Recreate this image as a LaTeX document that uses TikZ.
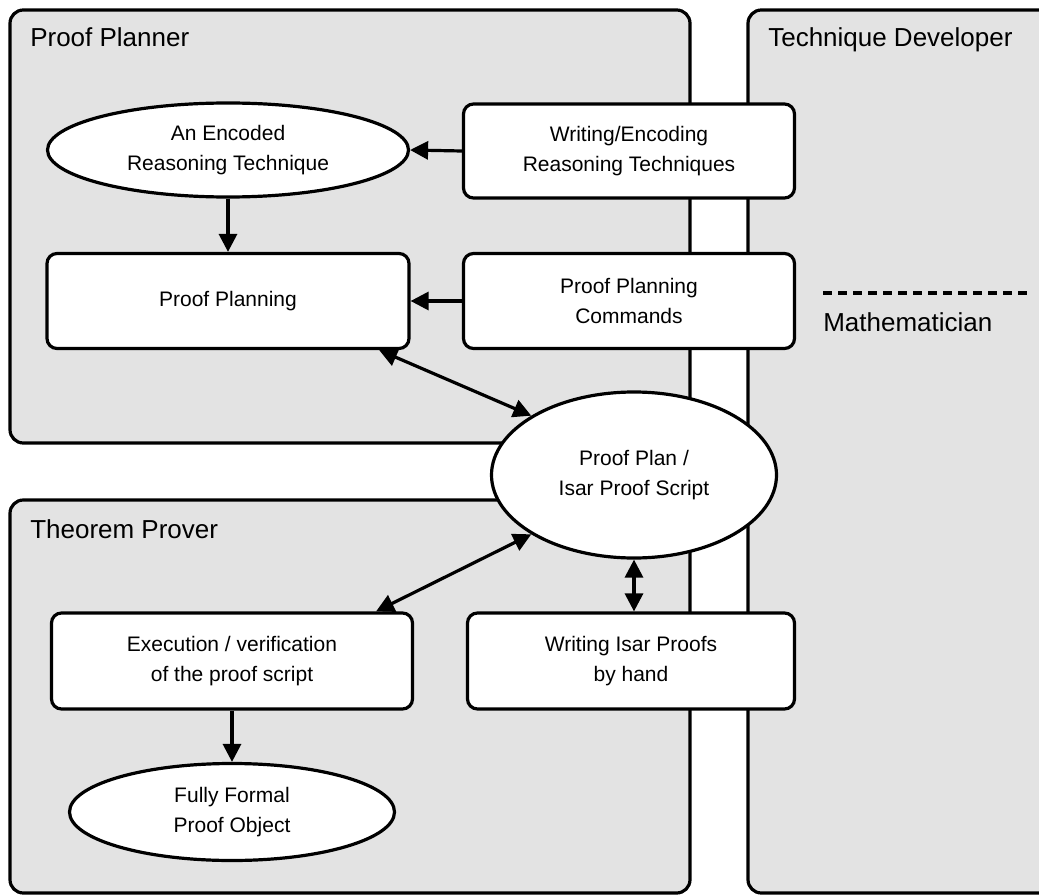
\documentclass[tikz,border=0pt]{standalone}
\usepackage{fontspec}
\setmainfont{Liberation Sans}
\usetikzlibrary{arrows.meta,shapes.geometric}
\newcommand{\boxfont}{\fontsize{15.75}{22.5}\selectfont}
\newcommand{\lanefont}{\fontsize{19.5}{23}\selectfont}
\begin{document}
\begin{tikzpicture}[x=.75pt,y=-.75pt,
		lane/.style={draw,line width=2.4pt,rounded corners=10pt,fill=black!11},
		block/.style={draw,line width=2.4pt,rounded corners=7.5pt,fill=white,align=center,font=\boxfont,inner sep=0pt},
		blob/.style={ellipse,draw,line width=2.4pt,fill=white,align=center,font=\boxfont,inner sep=0pt},
		link/.style={line width=2.4pt,-{Triangle[length=13.5pt,width=13.5pt]}},
		twoway/.style={line width=2.4pt,{Triangle[length=13.5pt,width=13.5pt]}-{Triangle[length=13.5pt,width=13.5pt]}},
		lbl/.style={anchor=base west,font=\lanefont,inner sep=0pt}]
	\useasboundingbox (0,0) rectangle (1039,895);
	\foreach \x/\y/\xx/\yy in {10/10/690/443,
							10/500/690/893,
							748/10/1075/893}
		\draw[lane] (\x,\y) rectangle (\xx,\yy);
	\node[lbl] (planner) at (30,47) {Proof Planner};
	\node[lbl] (prover) at (30,538) {Theorem Prover};
	\node[lbl] (developer) at (768,47) {Technique Developer};
	\node[lbl] (mathematician) at (823,331) {Mathematician};
	\draw[line width=2.4pt,dash pattern=on 6.75pt off 4.5pt] (823,293) -- (1027,293);

	\node[blob,minimum width=270.75pt,minimum height=70.5pt] (enc) at (228,150) {An Encoded\\Reasoning Technique};
	\node[block,minimum width=248.25pt,minimum height=70.5pt] (write) at (629,151) {Writing/Encoding\\Reasoning Techniques};
	\node[block,minimum width=271.5pt,minimum height=71.25pt] (plan) at (228,301) {Proof Planning};
	\node[block,minimum width=248.25pt,minimum height=71.25pt] (cmds) at (629,301) {Proof Planning\\Commands};
	\node[blob,minimum width=213.75pt,minimum height=124.5pt] (script) at (634,475) {Proof Plan /\\Isar Proof Script};
	\node[block,minimum width=270.75pt,minimum height=72pt] (exec) at (232,661) {Execution / verification\\of the proof script};
	\node[block,minimum width=245.25pt,minimum height=72pt] (hand) at (631,661) {Writing Isar Proofs\\by hand};
	\node[blob,minimum width=243.75pt,minimum height=72.75pt] (formal) at (232,812) {Fully Formal\\Proof Object};

	\foreach \a/\b in {write.west/enc.east,
					enc.south/plan.north,
					cmds.west/plan.east,
					exec.south/formal.north}
		\draw[link] (\a) -- (\b);
	\foreach \a/\b in {plan.-18.5/script.150,
					script.-150/exec.19.5}
		\draw[twoway] (\a) -- (\b);
	\draw[twoway] (script.south) -- (script.south |- hand.north);
\end{tikzpicture}
\end{document}
